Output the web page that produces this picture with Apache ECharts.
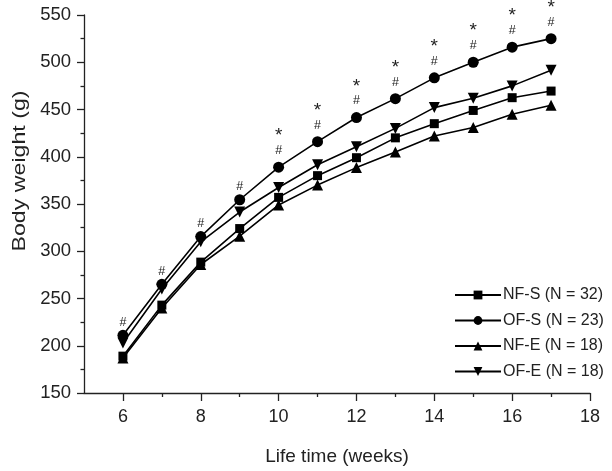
<!DOCTYPE html>
<html>
<head>
<meta charset="utf-8">
<script src="https://cdn.jsdelivr.net/npm/echarts@6/dist/echarts.min.js"></script>
<style>
html,body{margin:0;padding:0;background:#fff;}
#chart{width:612px;height:471px;}
</style>
</head>
<body>
<div id="chart"></div>
<script>
const weeks = [6, 7, 8, 9, 10, 11, 12, 13, 14, 15, 16, 17];
const nfS = [189, 243, 288.5, 324, 357, 380, 399, 420, 435, 449, 462.5, 469.5];
const ofS = [211, 265, 315.5, 354.5, 389, 416, 441.5, 461.5, 483.5, 500, 516, 525];
const nfE = [187, 240, 286, 316, 349, 370, 388.5, 405, 422, 431, 445, 454.5];
const ofE = [203, 260, 310, 341.5, 367.5, 391.5, 410.5, 430, 452, 462, 475, 491.5];
const marks = ['#', '#', '#', '#', '*#', '*#', '*#', '*#', '*#', '*#', '*#', '*#'];
const seriesNames = ['NF-S (N = 32)', 'OF-S (N = 23)', 'NF-E (N = 18)', 'OF-E (N = 18)'];
const xMajorTicks = [6, 8, 10, 12, 14, 16, 18];
const xMinorTicks = [7, 9, 11, 13, 15, 17];

const FONT = 'Liberation Sans, Arial, sans-serif';
const pair = arr => weeks.map((w, i) => [w, arr[i]]);
const downTri = 'path://M0,0 L10,0 L5,9 Z';

const chart = echarts.init(document.getElementById('chart'), null, {renderer: 'canvas'});

function mkSeries(name, data, symbol, size, extra) {
  return Object.assign({
    name: name,
    type: 'line',
    data: pair(data),
    symbol: symbol,
    symbolSize: size,
    showAllSymbol: true,
    lineStyle: {color: '#000', width: 1.6},
    itemStyle: {color: '#000'},
    emphasis: {disabled: true},
    animation: false,
    z: 3
  }, extra || {});
}

const option = {
  animation: false,
  backgroundColor: '#fff',
  grid: {left: 84, right: 22, top: 15, bottom: 72, containLabel: false},
  xAxis: [{
    type: 'value',
    min: 5, max: 18,
    name: 'Life time (weeks)',
    nameLocation: 'middle',
    nameGap: 54,
    nameTextStyle: {fontFamily: FONT, fontSize: 19, color: '#222'},
    axisLine: {show: true, onZero: false, lineStyle: {color: '#222', width: 1.3}},
    axisTick: {show: true, customValues: xMajorTicks, length: 8, inside: false, lineStyle: {color: '#222', width: 1.3}},
    axisLabel: {customValues: xMajorTicks, fontFamily: FONT, fontSize: 18, color: '#222', margin: 15},
    splitLine: {show: false}
  }, {
    type: 'value',
    min: 5, max: 18,
    position: 'bottom',
    axisLine: {show: false},
    axisTick: {show: true, customValues: xMinorTicks, length: 4, lineStyle: {color: '#222', width: 1.3}},
    axisLabel: {show: false, customValues: xMinorTicks},
    splitLine: {show: false}
  }],
  yAxis: {
    type: 'value',
    min: 150, max: 550, interval: 50,
    axisLine: {show: true, onZero: false, lineStyle: {color: '#222', width: 1.3}},
    axisTick: {show: true, length: 7, lineStyle: {color: '#222', width: 1.3}},
    minorTick: {show: true, splitNumber: 2, length: 3.5, lineStyle: {color: '#222', width: 1.3}},
    axisLabel: {fontFamily: FONT, fontSize: 18.5, color: '#222', margin: 13},
    splitLine: {show: false}
  },
  graphic: [{
    type: 'text',
    x: 20,
    y: 171,
    rotation: Math.PI / 2,
    scaleX: 1.22,
    style: {text: 'Body weight (g)', font: '19px ' + FONT, fill: '#222', align: 'center', verticalAlign: 'middle'}
  }],
  legend: {
    orient: 'vertical',
    left: 449,
    top: 282,
    itemWidth: 46,
    itemHeight: 11,
    itemGap: 9.5,
    textStyle: {fontFamily: FONT, fontSize: 16, color: '#222', padding: [0, 0, 0, -3]},
    data: seriesNames
  },
  series: [
    mkSeries(seriesNames[0], nfS, 'rect', 9),
    mkSeries(seriesNames[1], ofS, 'circle', 11, {
      label: {
        show: true,
        position: 'top',
        distance: 1,
        formatter: p => marks[p.dataIndex] === '#' ? '{h|#}' : '{s|*}\n{h2|#}',
        rich: {
          h: {fontFamily: FONT, fontSize: 12.5, lineHeight: 13, color: '#222'},
          h2: {fontFamily: FONT, fontSize: 12.5, lineHeight: 20, color: '#222'},
          s: {fontFamily: FONT, fontSize: 19, lineHeight: 9, color: '#222'}
        }
      }
    }),
    mkSeries(seriesNames[2], nfE, 'triangle', 11),
    mkSeries(seriesNames[3], ofE, downTri, 11)
  ]
};
chart.setOption(option);
</script>
</body>
</html>
